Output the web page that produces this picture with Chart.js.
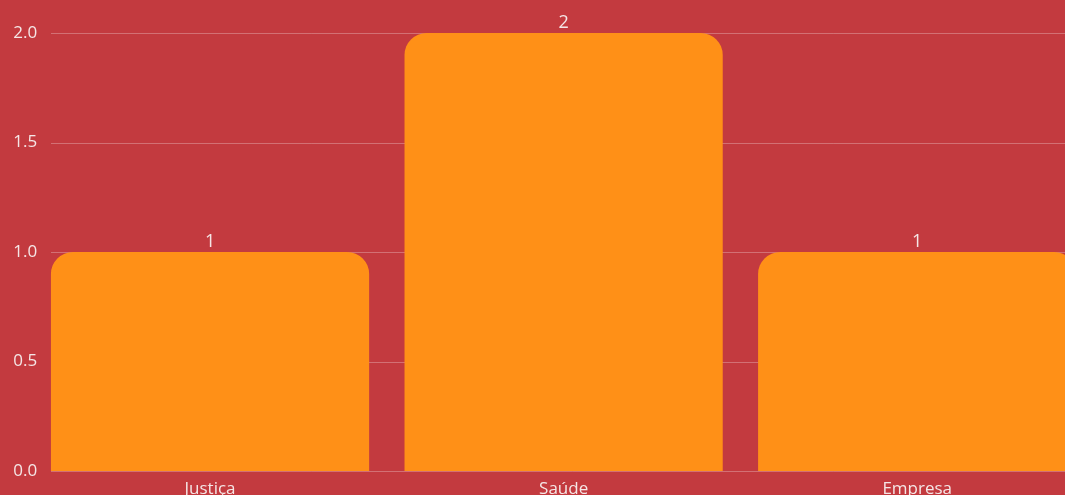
<!DOCTYPE html>
<html><head><meta charset="utf-8">
<script src="https://cdn.jsdelivr.net/npm/chart.js@4"></script>
<style>
html,body{margin:0;padding:0;background:#C33A3F;overflow:hidden;width:1065px;height:495px;}
#wrap{position:absolute;left:0;top:0;width:1094px;height:501px;}
</style></head><body>
<div id="wrap"><canvas id="c"></canvas></div>
<script>
const categories = ["Justiça", "Saúde", "Empresa"];
const values = [1, 2, 1];
const yTicks = [0, 0.5, 1.0, 1.5, 2.0];

const textColor = '#F5E6E6';

const gridPlugin = {
  id: 'hGrid',
  beforeDatasetsDraw(chart) {
    const ctx = chart.ctx, y = chart.scales.y, area = chart.chartArea;
    ctx.save();
    ctx.strokeStyle = 'rgba(255,255,255,0.28)';
    ctx.lineWidth = 1;
    yTicks.forEach(v => {
      const py = Math.round(y.getPixelForValue(v)) + 0.5;
      ctx.beginPath();
      ctx.moveTo(51, py);
      ctx.lineTo(area.right, py);
      ctx.stroke();
    });
    ctx.restore();
  }
};

const labelPlugin = {
  id: 'valLabels',
  afterDatasetsDraw(chart) {
    const ctx = chart.ctx;
    const meta = chart.getDatasetMeta(0);
    ctx.save();
    ctx.fillStyle = textColor;
    ctx.font = '18px "Open Sans", sans-serif';
    ctx.textAlign = 'center';
    ctx.textBaseline = 'alphabetic';
    meta.data.forEach((bar, i) => {
      ctx.fillText(String(values[i]), bar.x, bar.y - 5);
    });
    ctx.restore();
  }
};

new Chart(document.getElementById('c'), {
  type: 'bar',
  data: {
    labels: categories,
    datasets: [{
      data: values,
      backgroundColor: '#FF9017',
      borderRadius: 22,
      borderSkipped: 'start',
      barPercentage: 0.9,
      categoryPercentage: 1.0
    }]
  },
  options: {
    responsive: true,
    maintainAspectRatio: false,
    animation: false,
    layout: { padding: { top: 33, left: 0, right: 0, bottom: 0 } },
    plugins: { legend: { display: false }, tooltip: { enabled: false } },
    scales: {
      x: {
        grid: { display: false },
        border: { display: false },
        afterFit(a) { a.height = 30; },
        ticks: { color: textColor, font: { family: 'Open Sans', size: 17 }, padding: 0 }
      },
      y: {
        min: 0, max: 2,
        afterBuildTicks(axis) { axis.ticks = yTicks.map(v => ({ value: v })); },
        afterFit(a) { a.width = 33.25; },
        grid: { display: false },
        border: { display: false },
        ticks: {
          mirror: true,
          color: textColor, font: { family: 'Open Sans', size: 17 }, padding: -20,
          callback: v => Number(v).toFixed(1)
        }
      }
    }
  },
  plugins: [gridPlugin, labelPlugin]
});
</script>
</body></html>
